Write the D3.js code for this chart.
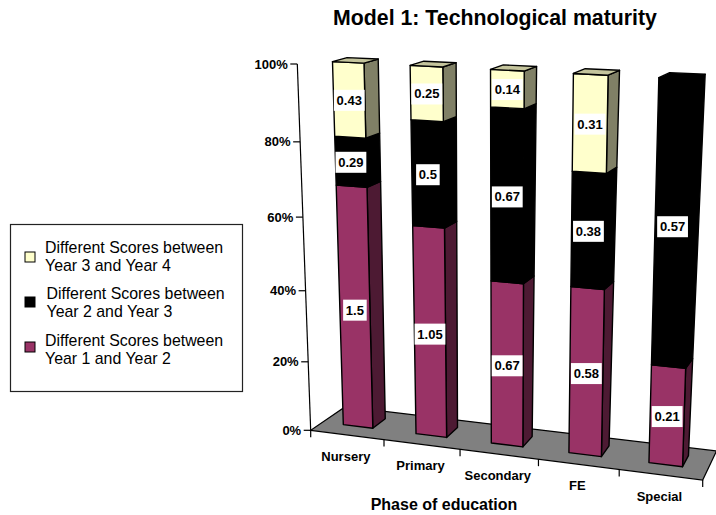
<!DOCTYPE html>
<html>
<head>
<meta charset="utf-8">
<script src="https://cdnjs.cloudflare.com/ajax/libs/d3/7.8.5/d3.min.js"></script>
<style>
  html, body { margin: 0; padding: 0; background: #fff; }
  svg { display: block; }
  text { font-family: "Liberation Sans", Arial, sans-serif; fill: #000; }
</style>
</head>
<body>
<svg id="chart" width="716" height="515"></svg>
<script>
const phases = ["Nursery", "Primary", "Secondary", "FE", "Special"];
const year1to2 = [1.5, 1.05, 0.67, 0.58, 0.21];
const year2to3 = [0.29, 0.5, 0.67, 0.38, 0.57];
const year3to4 = [0.43, 0.25, 0.14, 0.31, 0];
const percentTicks = [0, 0.2, 0.4, 0.6, 0.8, 1];
const seriesKeys = ["y12", "y23", "y34"];
const legendLines = [
  ["Different Scores between", "Year 3 and Year 4"],
  ["Different Scores between", "Year 2 and Year 3"],
  ["Different Scores between", "Year 1 and Year 2"]
];

const palette = {
  y12: { front: "#993366", side: "#4d1a33", top: "#732650" },
  y23: { front: "#000000", side: "#000000", top: "#000000" },
  y34: { front: "#ffffcc", side: "#808066", top: "#c4c49c" }
};

const svg = d3.select("#chart");

// Foreshortening along the category axis and the value axis of the 3-D box.
const uScale = d3.scaleLinear().domain([0, 1, 2, 3, 4, 5])
  .range([0, 0.187, 0.381, 0.581, 0.787, 1]);
const vScale = d3.scaleLinear().domain(percentTicks)
  .range([0, 0.187, 0.381, 0.582, 0.7875, 1]);

// Screen corners of the chart box: floor and ceiling, front and back.
const floorFrontL = [310.7, 430.3], floorFrontR = [702.7, 480];
const floorBackL = [345.3, 406.7], floorBackR = [716.5, 451];
const ceilFrontL = [297.3, 64], ceilFrontR = [712.3, 85.5];
const ceilBackL = [335.3, 54], ceilBackR = [738.3, 72];

const mix = (a, b, t) => [a[0] + (b[0] - a[0]) * t, a[1] + (b[1] - a[1]) * t];

// Maps category position u, share v and depth w to the screen.
function project(u, v, w) {
  const s = uScale(u), t = vScale(v);
  const floor = mix(mix(floorFrontL, floorFrontR, s), mix(floorBackL, floorBackR, s), w);
  const ceil = mix(mix(ceilFrontL, ceilFrontR, s), mix(ceilBackL, ceilBackR, s), w);
  return mix(floor, ceil, t);
}

const poly = pts => "M" + pts.map(p => p.map(n => n.toFixed(2)).join(",")).join("L") + "Z";

// Floor
svg.append("path")
  .attr("d", poly([floorFrontL, floorFrontR, floorBackR, floorBackL]))
  .attr("fill", "#808080").attr("stroke", "#000").attr("stroke-width", 1.2);

// Value axis
const axis = svg.append("g");
axis.append("line")
  .attr("x1", project(0, 0, 0)[0]).attr("y1", project(0, 0, 0)[1])
  .attr("x2", project(0, 1, 0)[0]).attr("y2", project(0, 1, 0)[1])
  .attr("stroke", "#000").attr("stroke-width", 1.2);
percentTicks.forEach(tick => {
  const p = project(0, tick, 0);
  axis.append("line")
    .attr("x1", p[0] - 7).attr("y1", p[1]).attr("x2", p[0]).attr("y2", p[1])
    .attr("stroke", "#000").attr("stroke-width", 1.2);
  axis.append("text")
    .attr("x", p[0] - 9.5).attr("y", p[1] + 4.5)
    .attr("text-anchor", "end").attr("font-size", 13).attr("font-weight", "bold")
    .text(d3.format(".0%")(tick));
});

// Category axis
d3.range(0, phases.length + 1).forEach(i => {
  const p = project(i, 0, 0);
  svg.append("line")
    .attr("x1", p[0]).attr("y1", p[1]).attr("x2", p[0]).attr("y2", p[1] + 7)
    .attr("stroke", "#000").attr("stroke-width", 1.2);
});
phases.forEach((name, i) => {
  const p = project(i + 0.5, 0, 0);
  svg.append("text")
    .attr("x", p[0] - 1.5).attr("y", p[1] + 26)
    .attr("text-anchor", "middle").attr("font-size", 13).attr("font-weight", "bold")
    .text(name);
});

// Bars: 100% stacks drawn left to right, bottom to top
const rows = phases.map((phase, i) => ({
  phase, y12: year1to2[i], y23: year2to3[i], y34: year3to4[i]
}));
const stacked = d3.stack().keys(seriesKeys).offset(d3.stackOffsetExpand)(rows);

const barCentre = 0.49, halfWidth = 0.205, wFront = 0.35, wBack = 0.74;
const labels = [];

phases.forEach((phase, i) => {
  const u0 = i + barCentre - halfWidth, u1 = i + barCentre + halfWidth;
  const bar = svg.append("g");
  stacked.forEach(series => {
    const [v0, v1] = series[i];
    const value = series[i].data[series.key];
    if (v1 - v0 <= 0) return;
    const colour = palette[series.key];
    const add = (pts, fill) => bar.append("path")
      .attr("d", poly(pts)).attr("fill", fill)
      .attr("stroke", "#000").attr("stroke-width", 1.4).attr("stroke-linejoin", "round");
    add([project(u1, v0, wFront), project(u1, v0, wBack), project(u1, v1, wBack), project(u1, v1, wFront)], colour.side);
    add([project(u0, v0, wFront), project(u1, v0, wFront), project(u1, v1, wFront), project(u0, v1, wFront)], colour.front);
    if (v1 >= 0.9999) {
      add([project(u0, v1, wFront), project(u1, v1, wFront), project(u1, v1, wBack), project(u0, v1, wBack)], colour.top);
    }
    labels.push({ value, at: project(i + barCentre, (v0 + v1) / 2, wFront) });
  });
});

// Value labels on white plates
const labelLayer = svg.append("g");
labels.forEach(d => {
  const text = labelLayer.append("text")
    .attr("x", d.at[0]).attr("y", d.at[1] + 5)
    .attr("text-anchor", "middle").attr("font-size", 13).attr("font-weight", "bold")
    .text(d.value);
  const w = text.node().getComputedTextLength() + 5.5;
  labelLayer.insert("rect", "text")
    .attr("x", d.at[0] - w / 2).attr("y", d.at[1] - 10)
    .attr("width", w).attr("height", 21).attr("fill", "#fff");
});

// Titles
svg.append("text").attr("x", 495).attr("y", 25)
  .attr("text-anchor", "middle").attr("font-size", 21.3).attr("font-weight", "bold")
  .text("Model 1: Technological maturity");
svg.append("text").attr("x", 444).attr("y", 510)
  .attr("text-anchor", "middle").attr("font-size", 16).attr("font-weight", "bold")
  .text("Phase of education");

// Legend
const legend = svg.append("g");
legend.append("rect").attr("x", 10.5).attr("y", 224.5).attr("width", 232).attr("height", 167)
  .attr("fill", "#fff").attr("stroke", "#222").attr("stroke-width", 1.2);
const legendKeys = ["y34", "y23", "y12"];
const swatchTop = d3.scalePoint().domain(legendKeys).range([252, 342]);
const textBaseline = d3.scalePoint().domain(legendKeys).range([252.5, 346]);
const legendTextX = { y34: 45, y23: 46.5, y12: 45 };
legendKeys.forEach((key, i) => {
  legend.append("rect").attr("x", 25).attr("y", swatchTop(key)).attr("width", 10).attr("height", 10)
    .attr("fill", palette[key].front).attr("stroke", "#000").attr("stroke-width", 1);
  legendLines[i].forEach((line, j) => {
    legend.append("text").attr("x", legendTextX[key]).attr("y", textBaseline(key) + j * 18)
      .attr("font-size", 15.9).text(line);
  });
});
</script>
</body>
</html>
